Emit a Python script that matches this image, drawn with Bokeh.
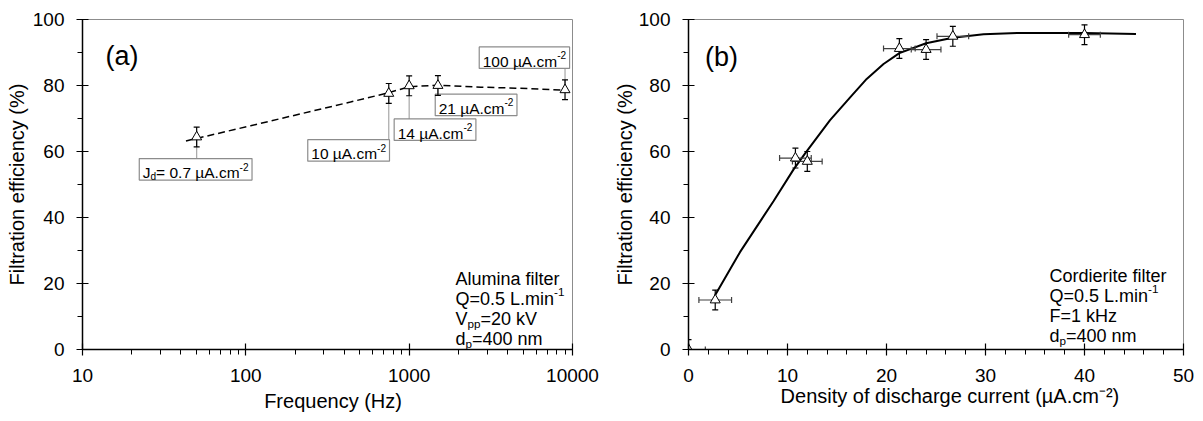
import math
from bokeh.plotting import figure
from bokeh.layouts import row
from bokeh.models import FixedTicker, PrintfTickFormatter
from bokeh.core.properties import value
from bokeh.embed import file_html
from bokeh.resources import INLINE

# ---------------- data : panel (a) ----------------
freq_a = [50, 750, 1000, 1500, 9000]
eff_a = [64.4, 77.6, 79.9, 80.0, 78.7]
yerr_a = [3, 3, 3, 3, 3]
jd_labels_a = ["0.7", "10", "14", "21", "100"]
fit_freq_a = [43, 107, 216, 437, 734, 1000, 1500, 2750, 4500, 9000]
fit_eff_a = [63.2, 67.8, 71.4, 75.0, 77.7, 79.6, 80.1, 79.5, 79.2, 78.6]

# ---------------- data : panel (b) ----------------
jd_b = [0, 2.7, 10.8, 12.0, 21.3, 24.0, 26.7, 40.0]
eff_b = [0, 15, 58, 57, 91.2, 90.9, 94.9, 95.4]
xerr_b = [1.7, 1.65, 1.6, 1.5, 1.6, 1.5, 1.6, 1.6]
yerr_b = [3, 3, 3, 3, 3, 3, 3, 3]
fit_jd_b = [2.7, 5.2, 8.6, 10.6, 11.8, 14.3, 16.35, 18.0, 19.7, 21.3, 24.0, 26.7, 29.8, 33.2, 40.0, 45.2]
fit_eff_b = [16.5, 29.5, 45.0, 54.5, 59.5, 69.5, 76.5, 82.0, 86.5, 89.8, 92.8, 94.5, 95.5, 95.9, 95.9, 95.6]

FONT = "Liberation Sans"
NBSP = "\u00a0"
W = {}
for ch, w in zip("abcdefghijklmnopqrstuvwxyz",
                 [.556, .556, .5, .556, .556, .278, .556, .556, .222, .222, .5, .222, .833,
                  .556, .556, .556, .556, .333, .5, .278, .556, .5, .722, .5, .5, .5]):
    W[ch] = w
for ch, w in zip("ABCDEFGHIJKLMNOPQRSTUVWXYZ",
                 [.667, .667, .722, .722, .667, .611, .778, .722, .278, .5, .667, .556, .833,
                  .722, .778, .667, .778, .722, .667, .611, .722, .667, .944, .667, .667, .611]):
    W[ch] = w
for ch in "0123456789":
    W[ch] = .556
W.update({" ": .278, ".": .278, ",": .278, "=": .584, "-": .333, "(": .333, ")": .333,
          "%": .889, "µ": .576})


def tw(s):
    return sum(W.get(c, .556) for c in s)


def seg_size(kind, size):
    return size if kind == "n" else size * 0.65


def rich_width(parts, size):
    return sum(tw(t) * seg_size(k, size) for t, k in parts)


def seg_shift(kind, size):
    if kind == "sub":
        return size * 0.24
    if kind == "sup":
        return -size * 0.40
    return 0.0


def draw_rich(p, x, y, parts, size, dx=0.0, dy=0.0):
    """Text glyphs anchored at data (x, y); offsets in screen px (y down)."""
    off = dx
    for txt, kind in parts:
        fs = seg_size(kind, size)
        p.text(x=[x], y=[y], text=[txt], x_offset=off, y_offset=dy + seg_shift(kind, size),
               text_font=value(FONT), text_font_size=f"{fs:.1f}px",
               text_baseline="alphabetic", text_align="left", text_color="black")
        off += tw(txt) * fs


def style(p, xl_so, xa_so, yl_so, ya_so):
    p.grid.visible = False
    p.outline_line_color = "#8c8c8c"
    p.outline_line_width = 1
    p.background_fill_color = "white"
    p.border_fill_color = "white"
    for ax in (p.xaxis[0], p.yaxis[0]):
        ax.axis_line_color = "black"
        ax.axis_line_width = 1.5
        ax.major_tick_line_color = "black"
        ax.minor_tick_line_color = "black"
        ax.major_tick_line_width = 1.2
        ax.minor_tick_line_width = 1
        ax.major_tick_in = 6
        ax.major_tick_out = 6
        ax.minor_tick_in = 0
        ax.minor_tick_out = 5
        ax.major_label_text_font = FONT
        ax.major_label_text_font_size = "19px"
        ax.major_label_text_color = "black"
        ax.axis_label_text_font = FONT
        ax.axis_label_text_font_size = "20px"
        ax.axis_label_text_font_style = "normal"
        ax.axis_label_text_color = "black"
    p.xaxis[0].major_label_standoff = xl_so
    p.xaxis[0].axis_label_standoff = xa_so
    p.yaxis[0].major_label_standoff = yl_so
    p.yaxis[0].axis_label_standoff = ya_so


def errorbars(p, xs, ys, xerr=None, yerr=None, xcolor="black"):
    if yerr is not None:
        lo = [y - e for y, e in zip(ys, yerr)]
        hi = [y + e for y, e in zip(ys, yerr)]
        p.segment(x0=xs, y0=lo, x1=xs, y1=hi, line_color="black", line_width=1.2)
        p.scatter(x=xs + xs, y=lo + hi, marker="dash", size=6, line_color="black", line_width=1.2)
    if xerr is not None:
        lo = [x - e for x, e in zip(xs, xerr)]
        hi = [x + e for x, e in zip(xs, xerr)]
        p.segment(x0=lo, y0=ys, x1=hi, y1=ys, line_color=xcolor, line_width=1.2)
        p.scatter(x=lo + hi, y=ys + ys, marker="dash", angle=math.pi / 2, size=6,
                  line_color=xcolor, line_width=1.2)


# ---------------- panel (a) ----------------
A_W, A_H = 600, 421
A_L, A_T = 82, 12
FA_W, FA_H = 490, 337
A_R = A_W - A_L - FA_W
A_B = A_H - A_T - FA_H
FA_X0, FA_Y0 = A_L, A_T   # page position of the frame

pa = figure(width=A_W, height=A_H, x_axis_type="log", x_range=(10, 10000), y_range=(0, 100),
            toolbar_location=None, output_backend="svg",
            min_border_left=A_L, min_border_right=A_R, min_border_top=A_T, min_border_bottom=A_B)
pa.xaxis.axis_label = NBSP * 2 + "Frequency (Hz)"
pa.yaxis.axis_label = "Filtration efficiency (%)"
pa.xaxis.ticker = FixedTicker(ticks=[10, 100, 1000, 10000],
                              minor_ticks=[m * d for d in (10, 100, 1000) for m in range(2, 10)])
pa.xaxis.formatter = PrintfTickFormatter(format="%d")
pa.yaxis.ticker = FixedTicker(ticks=[0, 20, 40, 60, 80, 100], minor_ticks=[10, 30, 50, 70, 90])
style(pa, 13, 5, 12, 2)


def a_page(X, Y):
    return (10 ** (1 + (X - FA_X0) * 3.0 / FA_W), 100 - (Y - FA_Y0) * 100.0 / FA_H)


def a_topage(x, y):
    return (FA_X0 + (math.log10(x) - 1) * FA_W / 3.0, FA_Y0 + (100 - y) / 100.0 * FA_H)


# annotation boxes: (dx of box left from point, dy of box centre from point) in px
BOX_POS = [(-57.4, 33.0), (-81.0, 58.2), (-15.0, 44.8), (-2.7, 19.8), (-85.8, -32.8)]
BOX_FS, BOX_PAD, BOX_H = 15.5, 3.5, 21.5
box_parts = []
for i, lab in enumerate(jd_labels_a):
    parts = []
    if i == 0:
        parts += [("J", "n"), ("d", "sub"), ("= ", "n")]
    parts += [(lab + " µA.cm", "n"), ("-2", "sup")]
    box_parts.append(parts)

lead_x, lead_y0, lead_y1 = [], [], []
box_x, box_y, box_w = [], [], []
for f, e, parts, (dxl, dyc) in zip(freq_a, eff_a, box_parts, BOX_POS):
    X, Y = a_topage(f, e)
    w = rich_width(parts, BOX_FS) + 2 * BOX_PAD
    cx, cy = a_page(X + dxl + w / 2.0, Y + dyc)
    box_x.append(cx)
    box_y.append(cy)
    box_w.append(w)
    edge = Y + dyc - BOX_H / 2.0 if dyc > 0 else Y + dyc + BOX_H / 2.0
    lead_x.append(f)
    lead_y0.append(e)
    lead_y1.append(a_page(X, edge)[1])

pa.segment(x0=lead_x, y0=lead_y0, x1=lead_x, y1=lead_y1, line_color="#a6a6a6", line_width=1.2)
pa.rect(x=box_x, y=box_y, width=box_w, height=BOX_H, width_units="screen", height_units="screen",
        fill_color="white", line_color="#8c8c8c", line_width=1.2)
for cx, cy, w, parts in zip(box_x, box_y, box_w, box_parts):
    draw_rich(pa, cx, cy, parts, BOX_FS, dx=-w / 2.0 + BOX_PAD, dy=3.5)

pa.line(fit_freq_a, fit_eff_a, line_color="black", line_width=1.5, line_dash="7 4")
errorbars(pa, freq_a, eff_a, yerr=yerr_a)
pa.scatter(freq_a, eff_a, marker="triangle", size=10, fill_color="white", line_color="black",
           line_width=1)

# panel label / conditions
lx, ly = a_page(105, 49.5)
draw_rich(pa, lx, ly, [("(a)", "n")], 27)
ax0, ay0 = a_page(455, 277.5)
cond_a = [[("Alumina filter", "n")],
          [("Q=0.5 L.min", "n"), ("-1", "sup")],
          [("V", "n"), ("pp", "sub"), ("=20 kV", "n")],
          [("d", "n"), ("p", "sub"), ("=400 nm", "n")]]
for k, parts in enumerate(cond_a):
    draw_rich(pa, ax0, ay0, parts, 18, dy=20.0 * k)

# ---------------- panel (b) ----------------
B_W, B_H = 603, 421
B_L, B_T = 88, 19
FB_W, FB_H = 495, 331
B_R = B_W - B_L - FB_W
B_B = B_H - B_T - FB_H
FB_X0, FB_Y0 = A_W + B_L, B_T

pb = figure(width=B_W, height=B_H, x_range=(0, 50), y_range=(0, 100),
            toolbar_location=None, output_backend="svg",
            min_border_left=B_L, min_border_right=B_R, min_border_top=B_T, min_border_bottom=B_B)
pb.xaxis.axis_label = NBSP * 5 + "Density of discharge current (µA.cm⁻²)"
pb.yaxis.axis_label = "Filtration efficiency (%)"
pb.xaxis.ticker = FixedTicker(ticks=[0, 10, 20, 30, 40, 50],
                              minor_ticks=[v for v in range(2, 50, 2) if v % 10])
pb.yaxis.ticker = FixedTicker(ticks=[0, 20, 40, 60, 80, 100], minor_ticks=[10, 30, 50, 70, 90])
style(pb, 13, 0, 12, 0)


def b_page(X, Y):
    return ((X - FB_X0) * 50.0 / FB_W, 100 - (Y - FB_Y0) * 100.0 / FB_H)


pb.line(fit_jd_b, fit_eff_b, line_color="black", line_width=2)
errorbars(pb, jd_b, eff_b, xerr=xerr_b, yerr=yerr_b, xcolor="#404040")
pb.scatter(jd_b, eff_b, marker="triangle", size=10, fill_color="white", line_color="black",
           line_width=1)

lx, ly = b_page(704.6, 56.4)
draw_rich(pb, lx, ly, [("(b)", "n")], 27)
bx0, by0 = b_page(1049, 276.5)
cond_b = [[("Cordierite filter", "n")],
          [("Q=0.5 L.min", "n"), ("-1", "sup")],
          [("F=1 kHz", "n")],
          [("d", "n"), ("p", "sub"), ("=400 nm", "n")]]
for k, parts in enumerate(cond_b):
    draw_rich(pb, bx0, by0, parts, 18, dy=20.0 * k)

layout = row(pa, pb)
open("out.html", "w").write(file_html(layout, INLINE))
